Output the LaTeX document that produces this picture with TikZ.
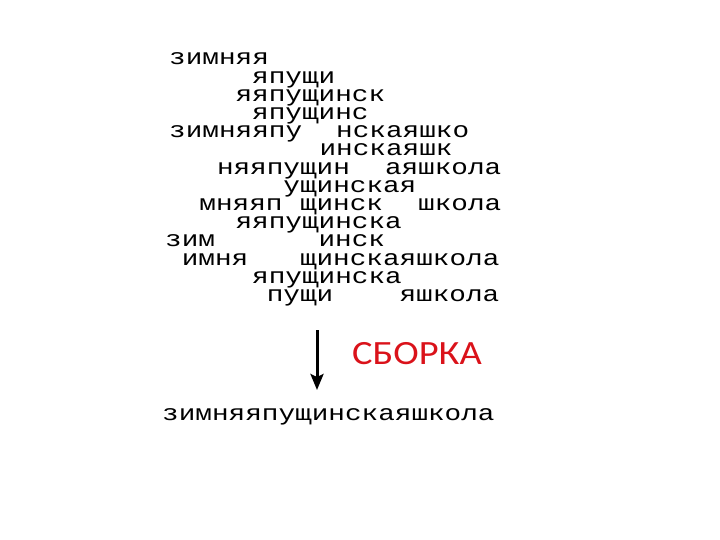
\documentclass[tikz,border=0pt]{standalone}
\usepackage{fontspec}
\usetikzlibrary{arrows.meta}
\newfontfamily\monof{Liberation Mono}
\newfontfamily\labf{Carlito}
\definecolor{sbred}{RGB}{218,18,26}
\newcommand\squash[1]{\scalebox{1}[0.8]{#1}}
\begin{document}
\begin{tikzpicture}[x=1pt,y=-1pt,
  frag/.style={anchor=base west, inner sep=0pt, font=\monof\fontsize{27.7pt}{30pt}\selectfont},
  lab/.style={anchor=base west, inner sep=0pt, text=sbred, font=\labf\fontsize{34pt}{36pt}\selectfont}]
\useasboundingbox (0,0) rectangle (720,540);
\def\X{169}\def\P{16.6}\def\B{65}\def\L{18.2}
\node[frag] (f1a) at (\X+\P*0, \B+\L*0) {\squash{зимняя}};
\node[frag] (f2a) at (\X+\P*5, \B+\L*1) {\squash{япущи}};
\node[frag] (f3a) at (\X+\P*4, \B+\L*2) {\squash{яяпущинск}};
\node[frag] (f4a) at (\X+\P*5, \B+\L*3) {\squash{япущинс}};
\node[frag] (f5a) at (\X+\P*0, \B+\L*4) {\squash{зимняяпу}};
\node[frag] (f5b) at (\X+\P*10+1, \B+\L*4) {\squash{нскаяшко}};
\node[frag] (f6a) at (\X+\P*9+1, \B+\L*5) {\squash{инскаяшк}};
\node[frag] (f7a) at (\X+\P*3-2, \B+\L*6) {\squash{няяпущин}};
\node[frag] (f7b) at (\X+\P*13, \B+\L*6) {\squash{аяшкола}};
\node[frag] (f8a) at (\X+\P*7-2, \B+\L*7) {\squash{ущинская}};
\node[frag] (f9a) at (\X+\P*2-3, \B+\L*8) {\squash{мняяп}};
\node[frag] (f9b) at (\X+\P*8-2, \B+\L*8) {\squash{щинск}};
\node[frag] (f9c) at (\X+\P*15, \B+\L*8) {\squash{школа}};
\node[frag] (f10a) at (\X+\P*4, \B+\L*9) {\squash{яяпущинска}};
\node[frag] (f11a) at (\X+\P*0-4, \B+\L*10) {\squash{зим}};
\node[frag] (f11b) at (\X+\P*9, \B+\L*10) {\squash{инск}};
\node[frag] (f12a) at (\X+\P*1-4, \B+\L*11) {\squash{имня}};
\node[frag] (f12b) at (\X+\P*8-2, \B+\L*11) {\squash{щинскаяшкола}};
\node[frag] (f13a) at (\X+\P*5, \B+\L*12) {\squash{япущинска}};
\node[frag] (f14a) at (\X+\P*6-2, \B+\L*13) {\squash{пущи}};
\node[frag] (f14b) at (\X+\P*14-2, \B+\L*13) {\squash{яшкола}};
\node[frag] (res) at (162, 420) {\squash{зимняяпущинскаяшкола}};
\coordinate (atop) at (317,330);
\coordinate (abot) at (317,390);
\draw[line width=3pt, -{Stealth[length=16pt,width=13pt,inset=3pt]}] (atop) -- (abot);
\node[lab] (sborka) at (352,364) {\scalebox{1.13}[1]{СБОРКА}};
\end{tikzpicture}
\end{document}
